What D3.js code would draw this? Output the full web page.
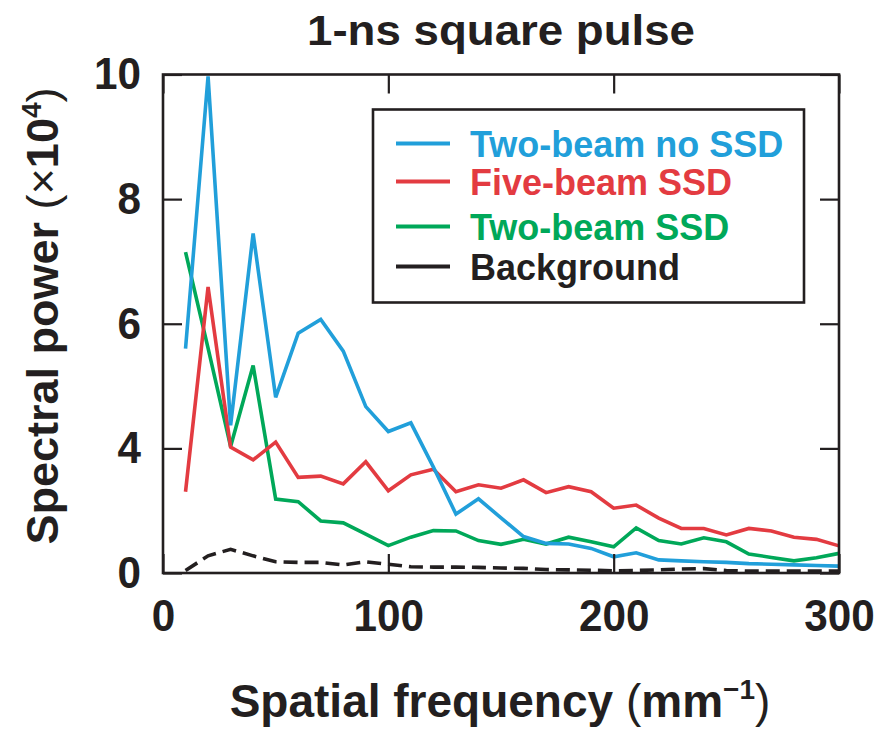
<!DOCTYPE html>
<html>
<head>
<meta charset="utf-8">
<script src="https://cdn.jsdelivr.net/npm/d3@7"></script>
<style>
  body { margin: 0; background: #fff; }
  text { font-family: "Liberation Sans", Arial, Helvetica, sans-serif; font-weight: bold; fill: #231f20; }
</style>
</head>
<body>
<div id="chart"></div>
<script>
// spatial frequency (mm^-1)
const freq = [10, 20, 30, 40, 50, 60, 70, 80, 90, 100,
              110, 120, 130, 140, 150, 160, 170, 180, 190, 200,
              210, 220, 230, 240, 250, 260, 270, 280, 290, 300];

// spectral power (x10^4)
const twoBeamNoSSD = [5.60, 9.97, 4.37, 7.45, 4.82, 5.85, 6.07, 5.56, 4.67, 4.27,
                      4.41, 3.40, 1.89, 2.38, 1.77, 1.17, 0.95, 0.93, 0.79, 0.52,
                      0.65, 0.42, 0.39, 0.36, 0.34, 0.30, 0.28, 0.26, 0.24, 0.22];
const fiveBeamSSD = [2.61, 6.59, 4.02, 3.63, 4.10, 3.07, 3.11, 2.86, 3.57, 2.64,
                     3.15, 3.33, 2.61, 2.83, 2.72, 2.99, 2.58, 2.77, 2.61, 2.08,
                     2.18, 1.76, 1.43, 1.43, 1.22, 1.43, 1.35, 1.15, 1.08, 0.87];
const twoBeamSSD = [7.15, 5.61, 4.03, 5.33, 2.37, 2.29, 1.67, 1.61, 1.25, 0.88,
                    1.15, 1.36, 1.35, 1.04, 0.92, 1.08, 0.93, 1.15, 1.00, 0.84,
                    1.45, 1.04, 0.93, 1.13, 1.00, 0.61, 0.50, 0.39, 0.49, 0.63];
const background = [0.08, 0.55, 0.76, 0.55, 0.36, 0.34, 0.34, 0.26, 0.36, 0.28,
                    0.20, 0.19, 0.19, 0.18, 0.16, 0.15, 0.11, 0.10, 0.09, 0.07,
                    0.08, 0.10, 0.13, 0.14, 0.08, 0.06, 0.06, 0.06, 0.06, 0.06];

const seriesNames = ["Two-beam no SSD", "Five-beam SSD", "Two-beam SSD", "Background"];
const seriesColors = ["#219fda", "#e33b41", "#00a859", "#231f20"];

const xTicks = [0, 100, 200, 300];
// the printed axis has evenly spaced labels 0, 4, 6, 8, 10
const yTicks = [0, 4, 6, 8, 10];

const width = 878, height = 729;
const margin = {top: 74.5, right: 39, bottom: 156, left: 163};
const w = width - margin.left - margin.right;
const h = height - margin.top - margin.bottom;

const svg = d3.select("#chart")
              .append("svg")
              .attr("width", width)
              .attr("height", height);

const g = svg.append("g")
             .attr("transform", `translate(${margin.left},${margin.top})`);

const x = d3.scaleLinear().domain([0, 300]).range([0, w]);
// piecewise so the ticks land evenly, as in the figure
const y = d3.scaleLinear().domain([0, 4, 10]).range([h, h * 0.75, 0]);

// series
const allSeries = [twoBeamNoSSD, fiveBeamSSD, twoBeamSSD, background];
const line = d3.line()
               .x(function(d) { return x(d[0]); })
               .y(function(d) { return y(d[1]); });

// draw background first so the coloured ones sit on top
[3, 2, 1, 0].forEach(function(i) {
    const pts = freq.map(function(f, j) { return [f, allSeries[i][j]]; });
    g.append("path")
     .datum(pts)
     .attr("d", line)
     .attr("fill", "none")
     .attr("stroke", seriesColors[i])
     .attr("stroke-width", 3.6)
     .attr("stroke-linejoin", "miter")
     .attr("stroke-dasharray", i === 3 ? "14,7" : null);
});

// axes - ticks point inward
const tickLen = 19;
const axisStyle = function(sel) {
    sel.select(".domain").remove();
    sel.selectAll(".tick line").attr("stroke", "#231f20").attr("stroke-width", 2.2);
    // labels are set in a slightly condensed face
    sel.selectAll(".tick text")
       .style("font-size", "45px")
       .attr("fill", "#231f20")
       .attr("textLength", function() { return this.textContent.length * 23.5; })
       .attr("lengthAdjust", "spacingAndGlyphs");
};

g.append("g")
 .attr("transform", `translate(0,${h})`)
 .call(d3.axisBottom(x).tickValues(xTicks).tickSize(-tickLen).tickPadding(26))
 .call(axisStyle);

g.append("g")
 .call(d3.axisTop(x).tickValues(xTicks).tickSize(-tickLen).tickFormat(""))
 .call(axisStyle);

g.append("g")
 .call(d3.axisLeft(y).tickValues(yTicks).tickSize(-tickLen).tickPadding(22))
 .call(axisStyle);

g.append("g")
 .attr("transform", `translate(${w},0)`)
 .call(d3.axisRight(y).tickValues(yTicks).tickSize(-tickLen).tickFormat(""))
 .call(axisStyle);

// frame
g.append("rect")
 .attr("width", w)
 .attr("height", h)
 .attr("fill", "none")
 .attr("stroke", "#231f20")
 .attr("stroke-width", 2.6);

// legend
const lg = svg.append("g").attr("transform", "translate(373,109.5)");
lg.append("rect")
  .attr("width", 431)
  .attr("height", 193)
  .attr("fill", "#fff")
  .attr("stroke", "#231f20")
  .attr("stroke-width", 2.6);

const rowY = [34, 72, 117, 157];
seriesNames.forEach(function(name, i) {
    lg.append("line")
      .attr("x1", 23).attr("x2", 77)
      .attr("y1", rowY[i]).attr("y2", rowY[i])
      .attr("stroke", seriesColors[i])
      .attr("stroke-width", 4);
    lg.append("text")
      .attr("x", 97)
      .attr("y", rowY[i] + 13)
      .style("font-size", "36px")
      .style("fill", seriesColors[i])
      .text(name);
});

// title
svg.append("text")
   .attr("x", 501)
   .attr("y", 45)
   .attr("text-anchor", "middle")
   .style("font-size", "42px")
   .attr("textLength", 388)
   .attr("lengthAdjust", "spacingAndGlyphs")
   .text("1-ns square pulse");

// x label
const xl = svg.append("text")
   .attr("x", 500)
   .attr("y", 717)
   .attr("text-anchor", "middle")
   .style("font-size", "46px");
xl.append("tspan").text("Spatial frequency ");
xl.append("tspan").style("font-weight", "normal").text("(");
xl.append("tspan").text("mm");
xl.append("tspan").attr("dy", -18).style("font-size", "28px").text("\u22121");
xl.append("tspan").attr("dy", 18).style("font-weight", "normal").text(")");

// y label
const yl = svg.append("text")
   .attr("transform", "translate(58,316) rotate(-90)")
   .attr("text-anchor", "middle")
   .style("font-size", "45px");
yl.append("tspan").text("Spectral power ");
yl.append("tspan").style("font-weight", "normal").text("(\u00d7");
yl.append("tspan").text("10");
yl.append("tspan").attr("dy", -17).style("font-size", "28px").text("4");
yl.append("tspan").attr("dy", 17).style("font-weight", "normal").text(")");
</script>
</body>
</html>
